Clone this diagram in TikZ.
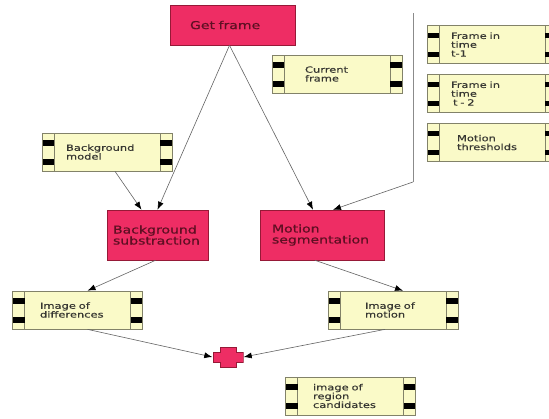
\documentclass[tikz,border=0pt]{standalone}
\usepackage{fontspec}
\usetikzlibrary{arrows.meta}
\newfontfamily\filmfont[FakeStretch=1.35,FakeBold=0.4]{DejaVu Sans}
\newfontfamily\procfont[FakeStretch=1.3,FakeBold=0.7]{DejaVu Sans}
\definecolor{procfill}{RGB}{238,45,100}
\definecolor{procedge}{RGB}{150,25,55}
\definecolor{proctext}{RGB}{95,15,35}
\definecolor{filmfill}{RGB}{250,250,200}
\definecolor{filmedge}{RGB}{130,130,105}
\definecolor{filmtext}{RGB}{55,55,50}
\definecolor{wire}{RGB}{100,100,100}
\begin{document}
\begin{tikzpicture}[x=1pt,y=-1pt,
  procbox/.style={draw=procedge, fill=procfill, line width=0.6pt, inner sep=0pt,
    align=left, text=proctext, font=\procfont\fontsize{10.8}{11}\selectfont},
  filmbox/.style={draw=filmedge, fill=filmfill, line width=0.7pt, inner sep=0pt,
    minimum width=130pt, minimum height=38pt, align=left, text=filmtext,
    font=\filmfont\fontsize{8.5}{8.8}\selectfont,
    path picture={
      % sprocket strips on both ends
      \draw[filmedge, line width=0.7pt]
        ([xshift=12pt]path picture bounding box.north west) --
        ([xshift=12pt]path picture bounding box.south west);
      \draw[filmedge, line width=0.7pt]
        ([xshift=-12pt]path picture bounding box.north east) --
        ([xshift=-12pt]path picture bounding box.south east);
      \fill[black] ([yshift=-7pt]path picture bounding box.north west)
        rectangle ([xshift=12pt,yshift=-12.5pt]path picture bounding box.north west);
      \fill[black] ([yshift=6.5pt]path picture bounding box.south west)
        rectangle ([xshift=12pt,yshift=12pt]path picture bounding box.south west);
      \fill[black] ([yshift=-7pt]path picture bounding box.north east)
        rectangle ([xshift=-12pt,yshift=-12.5pt]path picture bounding box.north east);
      \fill[black] ([yshift=6.5pt]path picture bounding box.south east)
        rectangle ([xshift=-12pt,yshift=12pt]path picture bounding box.south east);
    }},
  plusmark/.style={minimum width=31pt, minimum height=21pt, inner sep=0pt,
    path picture={
      \filldraw[fill=procfill, draw=procedge, line width=0.5pt]
        ([shift={(-15pt,5pt)}]path picture bounding box.center)
        -- ++(7pt,0pt) -- ++(0pt,5pt) -- ++(16pt,0pt) -- ++(0pt,-5pt)
        -- ++(7pt,0pt) -- ++(0pt,-10pt) -- ++(-7pt,0pt) -- ++(0pt,-5pt)
        -- ++(-16pt,0pt) -- ++(0pt,5pt) -- ++(-7pt,0pt) -- cycle;
    }},
  conn/.style={draw=wire, line width=0.6pt, -{Latex[length=8pt,width=6pt,color=black]}},
  sepline/.style={draw=wire!75, line width=1pt}
]
\useasboundingbox[fill=white] (0,0) rectangle (549,418);

% processing steps
\node[procbox, minimum width=125pt, minimum height=40pt, text width=85pt]
  (gf) at (232.5,25) {Get frame};
\node[procbox, minimum width=101pt, minimum height=50pt, text width=89pt]
  (bs) at (157.5,235) {Background\\substraction};
\node[procbox, minimum width=124pt, minimum height=50pt, text width=100pt]
  (ms) at (322,235) {Motion\\segmentation};

% data items
\node[filmbox, text width=64pt] (cf) at (337,74) {Current\\frame};
\node[filmbox, text width=82pt] (t1) at (492,44.5) {Frame in\\time\\t-1};
\node[filmbox, text width=82pt] (t2) at (492,93.5) {Frame in\\time\\\hspace*{2pt}t - 2};
\node[filmbox, text width=70pt] (thr) at (492,142.5) {Motion\\thresholds};
\node[filmbox, text width=82pt] (bgm) at (107,152) {Background\\model};
\node[filmbox, text width=75pt] (idf) at (77.5,310) {Image of\\differences};
\node[filmbox, text width=56pt] (imo) at (393,310) {Image of\\motion};
\node[filmbox, text width=75pt] (rc) at (350.5,396) {image of\\region\\candidates};

% combination mark
\node[plusmark] (plus) at (228,357) {};

% bracket grouping the previous frames and thresholds
\coordinate (sepTop) at (413,13);
\coordinate (sepBot) at (413,182);
\draw[sepline] (sepTop) -- (sepBot);

% connectors
\draw[conn] ([xshift=-3pt]gf.south) -- (bs.north);
\draw[conn] ([xshift=-3pt]gf.south) -- ([xshift=-9pt]ms.north);
\draw[conn] ([xshift=8pt]bgm.south) -- ([xshift=-16pt]bs.north);
\draw[conn] (sepBot) -- ([xshift=11pt]ms.north);
\draw[conn] ([xshift=-2pt]bs.south) -- ([xshift=10pt]idf.north);
\draw[conn] ([xshift=-7pt]ms.south) -- ([xshift=10pt]imo.north);
\draw[conn] ([xshift=10pt]idf.south) -- (plus.west);
\draw[conn] ([xshift=-8pt]imo.south) -- (plus.east);
\end{tikzpicture}
\end{document}
